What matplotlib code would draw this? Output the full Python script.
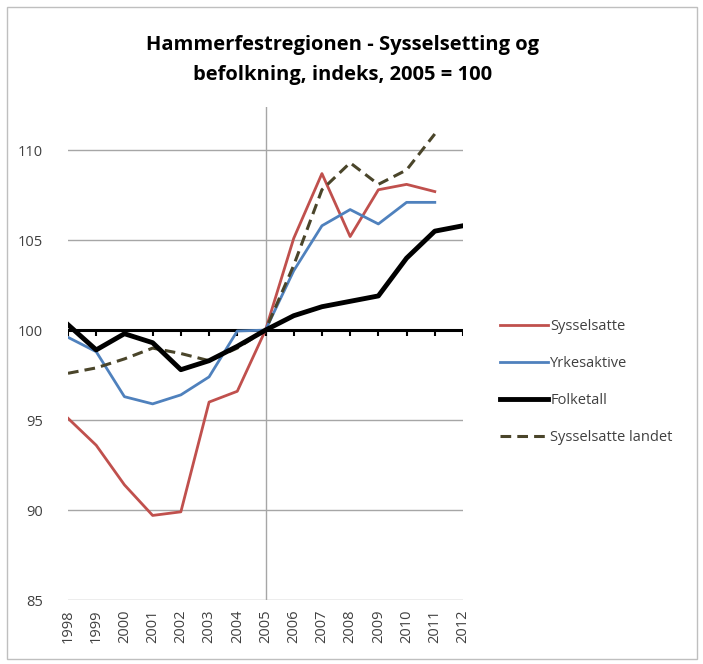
import matplotlib
matplotlib.use("Agg")
import matplotlib.pyplot as plt
from matplotlib.patches import Rectangle

years = list(range(1998, 2013))
sysselsatte = [95.1, 93.6, 91.4, 89.7, 89.9, 96.0, 96.6, 100.0, 105.1, 108.7, 105.2, 107.8, 108.1, 107.7, None]
yrkesaktive = [99.6, 98.8, 96.3, 95.9, 96.4, 97.4, 99.95, 100.0, 103.3, 105.8, 106.7, 105.9, 107.1, 107.1, None]
folketall = [100.3, 98.9, 99.8, 99.3, 97.8, 98.3, 99.1, 100.0, 100.8, 101.3, 101.6, 101.9, 104.0, 105.5, 105.8]
landet = [97.6, 97.9, 98.4, 99.0, 98.7, 98.3, 99.0, 100.0, 103.6, 107.8, 109.3, 108.1, 108.9, 110.9, None]
yticks = [85, 90, 95, 100, 105, 110]
title = "Hammerfestregionen - Sysselsetting og\nbefolkning, indeks, 2005 = 100"

plt.rcParams['font.family'] = ['Open Sans', 'DejaVu Sans']

W, H = 703, 664
fig = plt.figure(figsize=(W/100, H/100), dpi=100)
ax = fig.add_axes([68/W, 1-600/H, (463-68)/W, (600-107)/H])

def clean(v):
    return [float('nan') if x is None else x for x in v]

ax.set_xlim(1998, 2012)
ax.set_ylim(85, 112.4)
for y in yticks:
    ax.axhline(y, color='#a6a6a6', lw=1, zorder=1)
ax.axvline(2005, color='#a6a6a6', lw=1, zorder=1)
ax.axhline(100, color='black', lw=2.2, zorder=2)
ax.vlines(years, 99.7, 100, color='black', lw=1.5, zorder=2)

l1, = ax.plot(years, clean(sysselsatte), color='#c0504d', lw=2, label='Sysselsatte', zorder=3)
l2, = ax.plot(years, clean(yrkesaktive), color='#4f81bd', lw=2, label='Yrkesaktive', zorder=3)
l3, = ax.plot(years, clean(folketall), color='black', lw=3.5, label='Folketall', zorder=4)
l4, = ax.plot(years, clean(landet), color='#4a452a', lw=2.2, ls=(0, (3.5, 2)), label='Sysselsatte landet', zorder=3)

for s in ax.spines.values():
    s.set_visible(False)
ax.set_yticks(yticks)
ax.set_yticklabels([str(y) for y in yticks], fontsize=10.5, color='#404040')
ax.set_xticks(years)
ax.set_xticklabels([str(y) for y in years], rotation=90, fontsize=10.5, color='#404040')
ax.tick_params(axis='both', length=0)
ax.tick_params(axis='y', pad=18)
ax.tick_params(axis='x', pad=7)

fig.text(0.487, 1-60/H, title, ha='center', va='center', fontsize=14.5,
         fontweight='bold', linespacing=1.65)

fig.legend(handles=[l1, l2, l3, l4], loc='upper left', bbox_to_anchor=(487/W, 1-306/H),
           frameon=False, fontsize=10.5, handlelength=3.3, handletextpad=0.15,
           labelspacing=1.5, labelcolor='#404040')

fig.patches.append(Rectangle((7/W, 5/H), (697-7)/W, (657-5)/H, transform=fig.transFigure,
                             fill=False, edgecolor='#bfbfbf', lw=1))

fig.savefig('out.png', dpi=100)
